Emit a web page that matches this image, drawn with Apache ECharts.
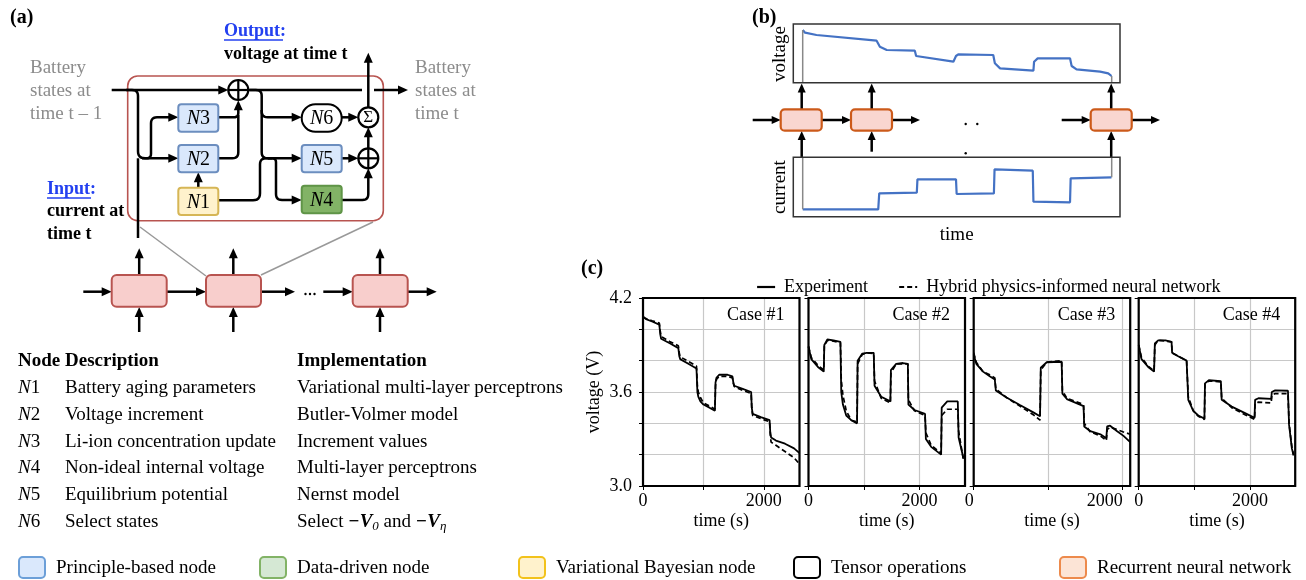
<!DOCTYPE html>
<html><head><meta charset="utf-8">
<script src="https://cdn.jsdelivr.net/npm/echarts@6/dist/echarts.min.js"></script>
<style>html,body{margin:0;padding:0;background:#fff}#c{width:1306px;height:580px}</style>
</head><body><div id="c"></div>
<script>
// ---------------- DATA ----------------
const seriesNames = ['Experiment', 'Hybrid physics-informed neural network'];
const caseNames = ['Case #1', 'Case #2', 'Case #3', 'Case #4'];
const voltageTickLabels = ['4.2', '3.6', '3.0'];
const timeTickLabels = [0, 2000];
const caseMaxTime = [2590, 2820, 2100, 2810];

const case1Time   = [0, 50, 150, 270, 285, 300, 450, 585, 600, 615, 750, 885, 900, 915, 950, 1000, 1100, 1190, 1200, 1215, 1260, 1400, 1480, 1495, 1510, 1650, 1790, 1800, 1815, 1950, 2095, 2105, 2120, 2200, 2350, 2500, 2590];
const case1Exp    = [4.08, 4.065, 4.05, 4.03, 3.97, 3.94, 3.91, 3.88, 3.83, 3.81, 3.78, 3.75, 3.60, 3.57, 3.54, 3.52, 3.50, 3.48, 3.66, 3.69, 3.71, 3.71, 3.70, 3.66, 3.64, 3.62, 3.60, 3.50, 3.46, 3.44, 3.42, 3.35, 3.31, 3.29, 3.27, 3.24, 3.21];
const case1Hybrid = [4.08, 4.068, 4.055, 4.04, 3.99, 3.955, 3.92, 3.895, 3.85, 3.825, 3.795, 3.765, 3.64, 3.60, 3.565, 3.53, 3.51, 3.49, 3.64, 3.68, 3.70, 3.70, 3.69, 3.655, 3.635, 3.61, 3.59, 3.50, 3.45, 3.43, 3.41, 3.33, 3.28, 3.26, 3.22, 3.18, 3.14];

const case2Time   = [0, 50, 170, 275, 285, 340, 450, 575, 590, 620, 680, 770, 875, 885, 970, 1050, 1175, 1190, 1310, 1475, 1485, 1580, 1700, 1790, 1800, 1910, 2100, 2115, 2210, 2390, 2400, 2500, 2690, 2705, 2790];
const case2Exp    = [3.89, 3.81, 3.76, 3.73, 3.90, 3.935, 3.93, 3.92, 3.60, 3.52, 3.45, 3.42, 3.40, 3.80, 3.845, 3.85, 3.85, 3.64, 3.57, 3.54, 3.74, 3.78, 3.785, 3.78, 3.52, 3.485, 3.46, 3.30, 3.25, 3.20, 3.50, 3.54, 3.54, 3.31, 3.18];
const case2Hybrid = [3.89, 3.82, 3.77, 3.74, 3.89, 3.93, 3.925, 3.915, 3.68, 3.58, 3.48, 3.42, 3.41, 3.78, 3.84, 3.85, 3.845, 3.67, 3.56, 3.53, 3.72, 3.78, 3.78, 3.78, 3.55, 3.48, 3.45, 3.34, 3.26, 3.21, 3.45, 3.49, 3.49, 3.35, 3.17];

const case3Time   = [0, 35, 125, 215, 283, 297, 440, 620, 800, 890, 900, 980, 1180, 1190, 1250, 1474, 1483, 1565, 1700, 1780, 1790, 1830, 1925, 2010, 2100];
const case3Exp    = [3.84, 3.78, 3.73, 3.70, 3.68, 3.61, 3.565, 3.517, 3.47, 3.445, 3.755, 3.79, 3.793, 3.59, 3.555, 3.51, 3.38, 3.35, 3.33, 3.305, 3.38, 3.385, 3.35, 3.32, 3.28];
const case3Hybrid = [3.85, 3.79, 3.73, 3.71, 3.69, 3.62, 3.565, 3.51, 3.455, 3.42, 3.74, 3.79, 3.80, 3.61, 3.56, 3.52, 3.40, 3.345, 3.32, 3.29, 3.36, 3.375, 3.36, 3.345, 3.33];

const case4Time   = [0, 50, 170, 276, 290, 350, 480, 590, 600, 700, 860, 875, 890, 980, 1070, 1180, 1190, 1260, 1475, 1490, 1670, 1910, 2080, 2090, 2150, 2380, 2390, 2450, 2680, 2700, 2750, 2780];
const case4Exp    = [3.90, 3.81, 3.76, 3.73, 3.91, 3.93, 3.93, 3.92, 3.85, 3.83, 3.80, 3.79, 3.55, 3.48, 3.45, 3.43, 3.655, 3.675, 3.67, 3.55, 3.507, 3.465, 3.435, 3.55, 3.56, 3.556, 3.60, 3.61, 3.608, 3.39, 3.24, 3.195];
const case4Hybrid = [3.90, 3.82, 3.765, 3.735, 3.90, 3.93, 3.925, 3.92, 3.85, 3.83, 3.80, 3.79, 3.57, 3.48, 3.445, 3.425, 3.65, 3.67, 3.665, 3.56, 3.50, 3.455, 3.425, 3.53, 3.535, 3.53, 3.58, 3.59, 3.59, 3.40, 3.25, 3.20];

// panel (b) schematic curves (arbitrary units 0-100)
const bVoltageTime = [2.9, 3.6, 7.1, 25.5, 26.5, 28.6, 37.2, 37.6, 49.0, 49.8, 50.5, 61.2, 61.7, 63.3, 73.5, 73.7, 74.8, 84.7, 85.2, 86.7, 93.9, 96.4, 97.4];
const bVoltage     = [89.8, 85.2, 81.3, 71.6, 61.4, 55.7, 54.5, 45.5, 35.8, 45.5, 48.3, 47.2, 33.0, 24.4, 20.5, 35.8, 41.5, 41.5, 28.4, 22.7, 18.8, 15.9, 11.4];
const bCurrentTime = [2.9, 26.0, 26.3, 37.8, 38.0, 49.8, 50.0, 61.4, 61.6, 73.3, 73.5, 84.7, 84.9, 97.4];
const bCurrent     = [12.4, 12.4, 39.3, 40.4, 62.9, 62.9, 38.2, 39.3, 79.8, 77.5, 25.3, 24.2, 64.6, 66.3];

// table
const tableHeader = ['Node', 'Description', 'Implementation'];
const tableNodes = ['1', '2', '3', '4', '5', '6'];
const tableDesc = ['Battery aging parameters', 'Voltage increment', 'Li-ion concentration update', 'Non-ideal internal voltage', 'Equilibrium potential', 'Select states'];
const tableImpl = ['Variational multi-layer perceptrons', 'Butler-Volmer model', 'Increment values', 'Multi-layer perceptrons', 'Nernst model', null];

const bottomLegend = ['Principle-based node', 'Data-driven node', 'Variational Bayesian node', 'Tensor operations', 'Recurrent neural network'];

// ---------------- DRAWING ----------------
const F = 'Liberation Serif';
const G = [];
function rounded(pts, r) {
  if (!r || pts.length < 3) return pts;
  const out = [pts[0]];
  for (let i = 1; i < pts.length - 1; i++) {
    const p0 = pts[i-1], p1 = pts[i], p2 = pts[i+1];
    const d1 = Math.hypot(p1[0]-p0[0], p1[1]-p0[1]), d2 = Math.hypot(p2[0]-p1[0], p2[1]-p1[1]);
    const rr = Math.min(r, d1/2, d2/2);
    const a = [p1[0]+(p0[0]-p1[0])*rr/d1, p1[1]+(p0[1]-p1[1])*rr/d1];
    const b = [p1[0]+(p2[0]-p1[0])*rr/d2, p1[1]+(p2[1]-p1[1])*rr/d2];
    for (let k = 0; k <= 6; k++) {
      const s = k/6;
      out.push([(1-s)*(1-s)*a[0]+2*(1-s)*s*p1[0]+s*s*b[0], (1-s)*(1-s)*a[1]+2*(1-s)*s*p1[1]+s*s*b[1]]);
    }
  }
  out.push(pts[pts.length-1]);
  return out;
}
function line(pts, r, color, w, z) {
  G.push({type: 'polyline', z: z || 10, shape: {points: rounded(pts, r)}, style: {stroke: color || '#000', lineWidth: w || 2.5, fill: null}});
}
function arrow(pts, r, len, hw) {
  len = len || 10; hw = hw || 4.5;
  const n = pts.length, p1 = pts[n-2], p2 = pts[n-1];
  const d = Math.hypot(p2[0]-p1[0], p2[1]-p1[1]);
  const ux = (p2[0]-p1[0])/d, uy = (p2[1]-p1[1])/d;
  const end = [p2[0]-ux*(len-2), p2[1]-uy*(len-2)];
  line(pts.slice(0, n-1).concat([end]), r);
  G.push({type: 'polygon', z: 12, shape: {points: [[p2[0], p2[1]], [p2[0]-ux*len-uy*hw, p2[1]-uy*len+ux*hw], [p2[0]-ux*len+uy*hw, p2[1]-uy*len-ux*hw]]}, style: {fill: '#000'}});
}
function rect(x, y, w, h, r, fill, stroke, lw, z) {
  G.push({type: 'rect', z: z || 20, shape: {x: x, y: y, width: w, height: h, r: r}, style: {fill: fill, stroke: stroke, lineWidth: lw || 2}});
}
function text(x, y, t, opt) {
  opt = opt || {};
  G.push({type: 'text', z: opt.z || 30, x: x, y: y, rotation: opt.rot || 0,
    style: {text: t, fill: opt.color || '#000', font: (opt.style || '') + ' ' + (opt.weight || 'normal') + ' ' + (opt.size || 18) + 'px "' + F + '"',
      textAlign: opt.align || 'left', textVerticalAlign: 'middle', verticalAlign: 'middle', rich: opt.rich}});
}
function oplus(cx, cy) {
  G.push({type: 'circle', z: 20, shape: {cx: cx, cy: cy, r: 10}, style: {fill: '#fff', stroke: '#000', lineWidth: 2.2}});
  G.push({type: 'line', z: 21, shape: {x1: cx-10, y1: cy, x2: cx+10, y2: cy}, style: {stroke: '#000', lineWidth: 2.2}});
  G.push({type: 'line', z: 21, shape: {x1: cx, y1: cy-10, x2: cx, y2: cy+10}, style: {stroke: '#000', lineWidth: 2.2}});
}
const nodeRich = {n: {fontStyle: 'italic', fontFamily: F, fontSize: 20}, d: {fontFamily: F, fontSize: 20}};
function node(x, y, w, h, r, fill, stroke, num) {
  rect(x, y, w, h, r, fill, stroke, 2);
  text(x + w/2, y + h/2 + 1, '{n|N}{d|' + num + '}', {align: 'center', rich: nodeRich});
}

// ---- panel (a) ----
text(10, 18, '(a)', {weight: 'bold', size: 20});
text(224, 31, 'Output:', {weight: 'bold', color: '#2340f0', size: 18});
G.push({type: 'line', z: 30, shape: {x1: 224, y1: 40, x2: 283, y2: 40}, style: {stroke: '#2340f0', lineWidth: 1.5}});
text(224, 54, 'voltage at time t', {weight: 'bold', size: 18});
['Battery', 'states at', 'time t \u2013 1'].forEach((s, i) => text(30, 68 + i*23, s, {color: '#8c8c8c', size: 19}));
['Battery', 'states at', 'time t'].forEach((s, i) => text(415, 68 + i*23, s, {color: '#8c8c8c', size: 19}));
text(47, 189, 'Input:', {weight: 'bold', color: '#2340f0', size: 18});
G.push({type: 'line', z: 30, shape: {x1: 47, y1: 198, x2: 91, y2: 198}, style: {stroke: '#2340f0', lineWidth: 1.5}});
text(47, 211, 'current at', {weight: 'bold', size: 18});
text(47, 234, 'time t', {weight: 'bold', size: 18});

rect(127.7, 76, 255.6, 144.7, 10, null, '#b85450', 1.6, 5);
line([[140, 227], [206, 276]], 0, '#999', 1.5, 4);
line([[373, 222], [261, 275]], 0, '#999', 1.5, 4);

arrow([[111.7, 90], [228.3, 90]]);
oplus(238.3, 90);
line([[248.3, 90], [362, 90]]);
arrow([[374, 90], [408, 90]]);
arrow([[126, 90], [138, 90], [138, 158.3], [178.3, 158.3]], 7);
line([[138, 238], [138, 158.3]]);
arrow([[142, 158.3], [151, 158.3], [151, 117.3], [178.3, 117.3]], 6);
arrow([[198.3, 187.7], [198.3, 172.3]]);
arrow([[218.3, 117.3], [238.3, 117.3], [238.3, 100.3]], 6);
line([[218.3, 158.3], [238.3, 158.3], [238.3, 115]], 6);
arrow([[250, 90], [261.7, 90], [261.7, 117.3], [301.7, 117.3]], 6);
arrow([[261.7, 110], [261.7, 158.3], [301.7, 158.3]], 6);
line([[218.3, 200.3], [260, 200.3], [260, 158.3], [272, 158.3]], 7);
arrow([[268, 158.3], [276, 158.3], [276, 200], [301.7, 200]], 6);
arrow([[341.7, 117.3], [358.3, 117.3]]);
arrow([[341.7, 158.3], [358.3, 158.3]]);
arrow([[341.7, 200], [368.3, 200], [368.3, 168.3]], 6);
arrow([[368.3, 148.3], [368.3, 127.3]]);
arrow([[368.3, 107.3], [368.3, 52.7]]);

node(178.3, 104.3, 40, 27.4, 3, '#dae8fc', '#6c8ebf', '3');
node(178.3, 145, 40, 27.3, 3, '#dae8fc', '#6c8ebf', '2');
node(178.3, 187.7, 40, 27.3, 3, '#fff2cc', '#d6b656', '1');
node(301.7, 104.3, 40, 27.4, 13.7, '#fff', '#000', '6');
node(301.7, 145, 40, 27.3, 3, '#dae8fc', '#6c8ebf', '5');
node(301.7, 185.7, 40, 27.6, 3, '#82b366', '#5f9447', '4');
G.push({type: 'circle', z: 20, shape: {cx: 368.3, cy: 117.3, r: 10}, style: {fill: '#fff', stroke: '#000', lineWidth: 2.2}});
text(368.3, 118, '\u03a3', {align: 'center', size: 17, z: 31});
oplus(368.3, 158.3);

// bottom RNN row of (a)
[[111.7, 139.2], [206, 233.3], [352.7, 380]].forEach(([x, cx]) => {
  rect(x, 275, 55, 31.7, 5, '#f8cecc', '#b85450', 2);
  arrow([[cx, 275], [cx, 248.3]]);
  arrow([[cx, 332], [cx, 307]]);
});
arrow([[83.3, 291.7], [111.7, 291.7]]);
arrow([[166.7, 291.7], [206, 291.7]]);
arrow([[260.7, 291.7], [295, 291.7]]);
arrow([[323.3, 291.7], [352.7, 291.7]]);
arrow([[407.3, 291.7], [436.7, 291.7]]);
[305.5, 310, 314.5].forEach(x => G.push({type: 'circle', z: 20, shape: {cx: x, cy: 294, r: 1.2}, style: {fill: '#000'}}));

// ---- panel (b) ----
text(752, 18, '(b)', {weight: 'bold', size: 20});
rect(793.3, 24, 326.7, 58.7, 0, null, '#333', 1.5, 100);
rect(793.3, 157.3, 326.7, 59.4, 0, null, '#333', 1.5, 100);
text(780, 54, 'voltage', {align: 'center', rot: Math.PI/2, size: 19});
text(780, 187, 'current', {align: 'center', rot: Math.PI/2, size: 19});
text(956.7, 235, 'time', {align: 'center', size: 19});
line([[802.7, 82.7], [802.7, 30]], 0, '#888', 1.5, 8);
line([[802.7, 157.3], [802.7, 209.3]], 0, '#888', 1.5, 8);
line([[1111.7, 82.7], [1111.7, 76]], 0, '#888', 1.5, 8);
line([[1111.7, 157.3], [1111.7, 177.3]], 0, '#888', 1.5, 8);
[[780.7, 801.7], [851, 871.7], [1090.7, 1111.2]].forEach(([x, cx], i) => {
  rect(x, 109.3, 41, 21.4, 4, '#f9d6d0', '#cc5a1a', 2.2);
  arrow([[cx, 109.3], [cx, 83.5]], 0, 9, 4);
  arrow([[cx, i === 1 ? 151.7 : 157.3], [cx, 131]], 0, 9, 4);
});
arrow([[752.7, 120], [780.7, 120]], 0, 9, 4);
arrow([[821.7, 120], [851, 120]], 0, 9, 4);
arrow([[891.7, 120], [920, 120]], 0, 9, 4);
arrow([[1061.7, 120], [1090.7, 120]], 0, 9, 4);
arrow([[1131.7, 120], [1160, 120]], 0, 9, 4);
[[965.7, 124], [977.3, 124], [965.7, 153.3]].forEach(([x, y]) => G.push({type: 'circle', z: 20, shape: {cx: x, cy: y, r: 1.2}, style: {fill: '#000'}}));

// ---- panel (c) decorations ----
text(581, 269, '(c)', {weight: 'bold', size: 20});
const panelLeft = [643, 808.5, 973.7, 1138.7], panelW = 156.5, panelTop = 298, panelH = 188;
panelLeft.forEach((l, i) => {
  rect(l, panelTop, panelW, panelH, 0, null, '#000', 2.2, 100);
  text(l + panelW - 15, 315, caseNames[i], {align: 'right', size: 18});
});

// ---- table ----
const TS = 19;
text(18, 361, tableHeader[0], {weight: 'bold', size: TS});
text(65, 361, tableHeader[1], {weight: 'bold', size: TS});
text(297, 361, tableHeader[2], {weight: 'bold', size: TS});
const tRich = {n: {fontStyle: 'italic', fontFamily: F, fontSize: TS}, d: {fontFamily: F, fontSize: TS}};
tableNodes.forEach((nd, i) => {
  const y = 388 + i*26.8;
  text(18, y, '{n|N}{d|' + nd + '}', {rich: tRich});
  text(65, y, tableDesc[i], {size: TS});
  if (tableImpl[i]) text(297, y, tableImpl[i], {size: TS});
});
text(297, 522, '{a|Select }{b|\u2212V}{s|0}{a| and }{b|\u2212V}{s|\u03b7}', {rich: {
  a: {fontFamily: F, fontSize: TS, lineHeight: 22, verticalAlign: 'middle'},
  b: {fontFamily: F, fontSize: TS, fontWeight: 'bold', fontStyle: 'italic', lineHeight: 22, verticalAlign: 'middle'},
  s: {fontFamily: F, fontSize: 13, fontStyle: 'italic', lineHeight: 14, verticalAlign: 'bottom', padding: [10, 0, 0, 0]}
}});

// ---- bottom legend ----
const legBoxes = [[19, '#dae8fc', '#6c9fd8'], [260, '#d5e8d4', '#82b366'], [519, '#fff2cc', '#f2c21b'], [794, '#fff', '#000'], [1060, '#fce4d6', '#ed8a4c']];
const legTextX = [56, 297, 556, 831, 1097];
legBoxes.forEach(([x, f, s], i) => {
  rect(x, 557, 26, 21, 4, f, s, 2);
  text(legTextX[i], 568, bottomLegend[i], {size: 19});
});

// ---------------- CHART ----------------
const cases = [
  [case1Time, case1Exp, case1Hybrid],
  [case2Time, case2Exp, case2Hybrid],
  [case3Time, case3Exp, case3Hybrid],
  [case4Time, case4Exp, case4Hybrid]
];
const grids = [], xAxes = [], yAxes = [], series = [];
const axisFont = {fontFamily: F, fontSize: 18, color: '#000'};
panelLeft.forEach((l, i) => {
  grids.push({left: l, top: panelTop, width: panelW, height: panelH, show: false});
  xAxes.push({gridIndex: i, type: 'value', min: 0, max: caseMaxTime[i], interval: 1000,
    axisLine: {show: false}, axisTick: {show: true, length: 4, lineStyle: {color: '#000', width: 1}},
    axisLabel: Object.assign({margin: 6, showMaxLabel: false, align: i === 2 ? 'right' : 'center',
      formatter: v => timeTickLabels.indexOf(v) >= 0 ? String(v) : ''}, axisFont),
    splitLine: {show: true, lineStyle: {color: '#c8c8c8', width: 1.2}},
    name: 'time (s)', nameLocation: 'middle', nameGap: 26, nameTextStyle: axisFont});
  yAxes.push({gridIndex: i, type: 'value', min: 3.0, max: 4.2, interval: 0.2,
    axisLine: {show: false}, axisTick: {show: true, length: 4, lineStyle: {color: '#000', width: 1}},
    axisLabel: Object.assign({show: i === 0, margin: 11, showMinLabel: true, showMaxLabel: true,
      formatter: v => voltageTickLabels.indexOf(v.toFixed(1)) >= 0 ? v.toFixed(1) : ''}, axisFont),
    splitLine: {show: true, lineStyle: {color: '#c8c8c8', width: 1.2}},
    name: i === 0 ? 'voltage (V)' : '', nameLocation: 'middle', nameGap: 40, nameTextStyle: axisFont});
  const [t, e, h] = cases[i];
  series.push({name: seriesNames[1], type: 'line', xAxisIndex: i, yAxisIndex: i, symbol: 'none', smooth: false,
    data: t.map((x, k) => [x, h[k]]), lineStyle: {color: '#000', width: 1.7, type: [5, 3]}, itemStyle: {color: '#000'}, z: 3});
  series.push({name: seriesNames[0], type: 'line', xAxisIndex: i, yAxisIndex: i, symbol: 'none', smooth: false,
    data: t.map((x, k) => [x, e[k]]), lineStyle: {color: '#000', width: 1.8}, itemStyle: {color: '#000'}, z: 4});
});
// (b) panels
grids.push({left: 793.3, top: 24, width: 326.7, height: 58.7, show: false});
grids.push({left: 793.3, top: 157.3, width: 326.7, height: 59.4, show: false});
[4, 5].forEach(g => {
  xAxes.push({gridIndex: g, type: 'value', min: 0, max: 100, show: false, splitLine: {show: false}});
  yAxes.push({gridIndex: g, type: 'value', min: 0, max: 100, show: false, splitLine: {show: false}});
});
series.push({name: 'bVoltage', type: 'line', xAxisIndex: 4, yAxisIndex: 4, symbol: 'none', data: bVoltageTime.map((x, k) => [x, bVoltage[k]]), lineStyle: {color: '#4472c4', width: 2.2}, z: 5});
series.push({name: 'bCurrent', type: 'line', xAxisIndex: 5, yAxisIndex: 5, symbol: 'none', data: bCurrentTime.map((x, k) => [x, bCurrent[k]]), lineStyle: {color: '#4472c4', width: 2.2}, z: 5});

const chart = echarts.init(document.getElementById('c'), null, {renderer: 'canvas'});
chart.setOption({
  animation: false,
  backgroundColor: '#fff',
  legend: {left: 751, top: 273, itemWidth: 18, itemHeight: 10, itemGap: 30, data: seriesNames,
    itemStyle: {opacity: 0, borderWidth: 0}, lineStyle: {width: 2.2},
    textStyle: {fontFamily: F, fontSize: 18, color: '#000', padding: [0, 0, 0, 4]}},
  grid: grids, xAxis: xAxes, yAxis: yAxes, series: series,
  graphic: {elements: G}
});
</script></body></html>
